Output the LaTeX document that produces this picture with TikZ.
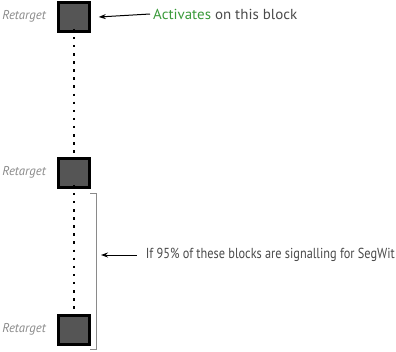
\documentclass[tikz,border=0pt]{standalone}
\usepackage{fontspec}
\setmainfont{PT Sans}
\usetikzlibrary{arrows.meta}
\definecolor{boxfill}{HTML}{555555}
\definecolor{txtgray}{HTML}{4A4A4A}
\definecolor{lblgray}{HTML}{8A8A8A}
\definecolor{actgreen}{HTML}{3A9A3A}
\begin{document}
\begin{tikzpicture}[x=1pt,y=-1pt,
  blk/.style={draw=black,line width=2.5pt,fill=boxfill,minimum width=31pt,minimum height=29pt,inner sep=0pt},
  lbl/.style={font=\itshape\fontsize{12.8}{15}\selectfont,text=lblgray,anchor=east,inner sep=0pt},
  note/.style={font=\fontsize{14.5}{17}\selectfont,text=txtgray,anchor=west,inner sep=0pt},
  dots/.style={line width=2.5pt,dash pattern=on 2.5pt off 5.6pt},
  pointer/.style={-{Stealth[length=7pt,width=5pt]},line width=1pt,black},
  brk/.style={draw=lblgray,line width=0.8pt}]
\useasboundingbox (0,0) rectangle (396,351);
\node[blk] (b1) at (74,17) {};
\node[blk] (b2) at (74,173) {};
\node[blk] (b3) at (74,330) {};
\node[lbl] (l1) at (46,16) {Retarget};
\node[lbl] (l2) at (46,172) {Retarget};
\node[lbl] (l3) at (46,329) {Retarget};
\draw[dots] ([yshift=4pt]b1.south) -- ([yshift=-2pt]b2.north);
\draw[dots] ([yshift=4pt]b2.south) -- ([yshift=-2pt]b3.north);
\node[note] (t1) at (153,14) {\resizebox{144pt}{\height}{\textcolor{actgreen}{Activates} on this block}};
\draw[pointer] ([xshift=-3pt]t1.west) -- ([xshift=8pt]b1.east);
\coordinate (k1) at (90,193);
\coordinate (k2) at (96,193);
\coordinate (k3) at (96,349);
\coordinate (k4) at (90,349);
\draw[brk] (k1) -- (k2) -- (k3) -- (k4);
\node[note,anchor=east] (t2) at (395,255) {\resizebox{249pt}{\height}{If 95\% of these blocks are signalling for SegWit}};
\draw[pointer] ([xshift=-9pt]t2.west) -- (101,255);
\end{tikzpicture}
\end{document}
